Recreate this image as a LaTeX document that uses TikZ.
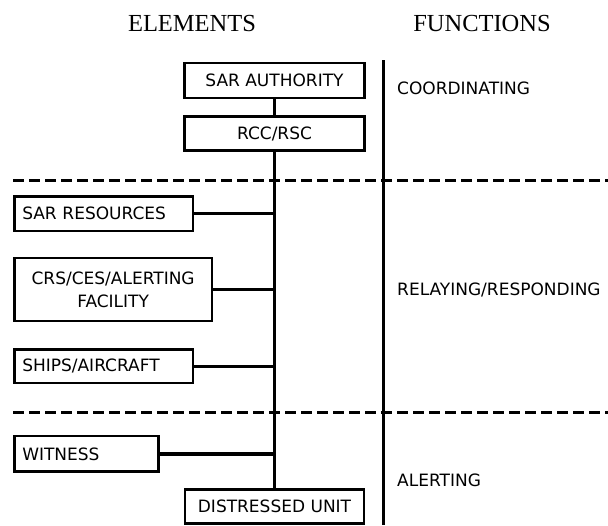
\documentclass[tikz,border=0pt]{standalone}
\usepackage{fontspec}
\setsansfont{DejaVu Sans}
\newfontfamily\headfont{Liberation Serif}
\usepackage{tikz}
\usetikzlibrary{positioning}

\begin{document}
\begin{tikzpicture}[
    x=1pt, y=-1pt,
    box/.style={rectangle, draw, line width=2.5pt, inner xsep=8pt, inner ysep=0pt, align=center,
        font=\sffamily\fontsize{17}{23}\selectfont},
    lbox/.style={box, align=left},
    label/.style={inner sep=0pt, font=\sffamily\fontsize{17}{23}\selectfont},
    head/.style={inner sep=0pt, font=\headfont\fontsize{24.5}{28}\selectfont},
    bus/.style={line width=3.5pt},
    divider/.style={line width=3pt, dash pattern=on 11pt off 5pt}
]
\useasboundingbox (0,0) rectangle (608,525);
\node[head] (ELEMENTS) at (192,23.5) {ELEMENTS};
\node[head] (FUNCTIONS) at (482,23.5) {FUNCTIONS};
\node[box, minimum width=180pt, minimum height=35pt] (AUTH) at (274.5,80.5) {SAR AUTHORITY};
\node[box, minimum width=180pt, minimum height=34pt] (RCC) [below=16pt of AUTH] {RCC/RSC};
\node[lbox, text width=162.5pt, minimum height=34.5pt] (RES) at (103.5,213.5) {SAR RESOURCES};
\node[box, minimum width=197.75pt, minimum height=63pt] (CRS) [below=24.75pt of RES.south west, anchor=north west] {CRS/CES/ALERTING\\FACILITY};
\node[lbox, text width=162.5pt, minimum height=33.5pt] (SHIPS) [below=26pt of CRS.south west, anchor=north west] {SHIPS/AIRCRAFT};
\node[lbox, text width=128pt, minimum height=35.5pt] (WITNESS) [below=50.7pt of SHIPS.south west, anchor=north west] {WITNESS};
\node[box, minimum width=179pt, minimum height=34pt] (DIST) at (274.5,506.5) {DISTRESSED UNIT};
\node[label, anchor=west] (COORD) at (397,88) {COORDINATING};
\node[label, anchor=west] (RELAY) at (397,290) {RELAYING/RESPONDING};
\node[label, anchor=west] (ALERT) at (397,480) {ALERTING};
\coordinate (UPPERL) at (13,180);
\coordinate (UPPERR) at (608,180);
\coordinate (LOWERL) at (13,412);
\coordinate (LOWERR) at (608,412);
\coordinate (SEPTOP) at (383,60);
\coordinate (SEPBOT) at (383,525);
\draw [divider] (UPPERL) -- (UPPERR);
\draw [divider] (LOWERL) -- (LOWERR);
\draw [line width=3pt] (SEPTOP) -- (SEPBOT);
\draw [bus] (AUTH) -- (RCC);
\draw [bus] (RCC) -- (DIST);
\draw [bus] (RES) -- (RES -| RCC);
\draw [bus] (CRS) -- (CRS -| RCC);
\draw [bus] (SHIPS) -- (SHIPS -| RCC);
\draw [bus] (WITNESS) -- (WITNESS -| RCC);

\end{tikzpicture}
\end{document}
